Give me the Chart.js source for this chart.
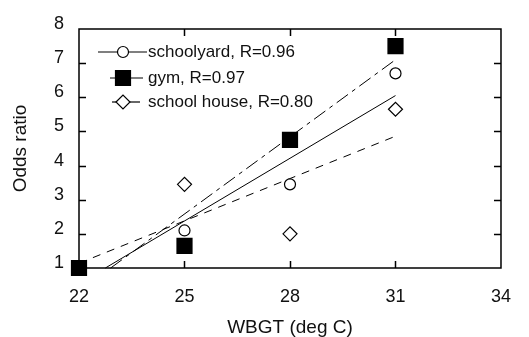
<!DOCTYPE html>
<html>
<head>
<meta charset="utf-8">
<script src="https://cdn.jsdelivr.net/npm/chart.js@4/dist/chart.umd.min.js"></script>
<style>
  html, body { margin: 0; padding: 0; background: #fff; }
</style>
</head>
<body>
<canvas id="oddsChart" width="529" height="337"></canvas>
<script>
// values
const wbgt = [22, 25, 28, 31];
const schoolyard = [1, 2.1, 3.45, 6.7];
const gym = [1, 1.65, 4.75, 7.5];
const schoolHouse = [1, 3.45, 2.0, 5.65];

// regression lines (end points as drawn)
const schoolyardFitX = [22.75, 31], schoolyardFitY = [1, 6.05];
const gymFitX = [22.9, 31], gymFitY = [1, 7.1];
const houseFitX = [22, 31], houseFitY = [1.14, 4.86];

const labels = ["schoolyard, R=0.96", "gym, R=0.97", "school house, R=0.80"];
const xTicks = [22, 25, 28, 31, 34];
const yTicks = [1, 2, 3, 4, 5, 6, 7, 8];

const FONT = '"Liberation Sans", Arial, sans-serif';
const TICK = 7;

const pts = (xs, ys) => xs.map((x, i) => ({ x, y: ys[i] }));

// box round the plot + inward ticks
const frameTicks = {
  id: "frameTicks",
  beforeDatasetsDraw(chart) {
    const { ctx, chartArea: a, scales: { x, y } } = chart;
    ctx.save();
    ctx.strokeStyle = "#000";
    ctx.lineWidth = 1.5;
    ctx.strokeRect(a.left, a.top, a.right - a.left, a.bottom - a.top);
    ctx.beginPath();
    xTicks.slice(1, -1).forEach(v => {
      const px = Math.round(x.getPixelForValue(v)) + 0.5;
      ctx.moveTo(px, a.bottom); ctx.lineTo(px, a.bottom - TICK);
      ctx.moveTo(px, a.top); ctx.lineTo(px, a.top + TICK);
    });
    yTicks.slice(1, -1).forEach(v => {
      const py = Math.round(y.getPixelForValue(v)) + 0.5;
      ctx.moveTo(a.left, py); ctx.lineTo(a.left + TICK, py);
      ctx.moveTo(a.right, py); ctx.lineTo(a.right - TICK, py);
    });
    ctx.stroke();
    ctx.restore();
  }
};

// legend inside the plot: line with the marker on it, then the label
const innerLegend = {
  id: "innerLegend",
  afterDraw(chart) {
    const ctx = chart.ctx;
    const rows = [
      { y: 52, x0: 98, x1: 147, ds: 1 },
      { y: 78, x0: 110, x1: 143, ds: 0 },
      { y: 102, x0: 112, x1: 140, ds: 2 }
    ];
    ctx.save();
    rows.forEach(r => {
      const d = chart.data.datasets[r.ds];
      ctx.strokeStyle = "#000";
      ctx.lineWidth = 1.2;
      ctx.beginPath(); ctx.moveTo(r.x0, r.y); ctx.lineTo(r.x1, r.y); ctx.stroke();
      const cx = 123, rad = d.pointRadius;
      ctx.fillStyle = d.pointBackgroundColor;
      ctx.beginPath();
      if (d.pointStyle === "circle") ctx.arc(cx, r.y, rad, 0, Math.PI * 2);
      else if (d.pointStyle === "rect") { const s = rad * Math.SQRT1_2; ctx.rect(cx - s, r.y - s, 2 * s, 2 * s); }
      else { ctx.moveTo(cx - rad, r.y); ctx.lineTo(cx, r.y - rad); ctx.lineTo(cx + rad, r.y); ctx.lineTo(cx, r.y + rad); ctx.closePath(); }
      ctx.fill(); ctx.stroke();
      ctx.fillStyle = "#111";
      ctx.font = "17px " + FONT;
      ctx.textBaseline = "alphabetic";
      ctx.fillText(d.label, 148, r.y + 5);
    });
    ctx.restore();
  }
};

const pointSet = (label, ys, style, radius, fill) => ({
  label, data: pts(wbgt, ys), showLine: false, clip: false,
  pointStyle: style, pointRadius: radius, pointHoverRadius: radius,
  pointBackgroundColor: fill, pointBorderColor: "#000", pointBorderWidth: 1.2
});
const fitSet = (xs, ys, dash) => ({
  data: pts(xs, ys), showLine: true, pointRadius: 0, clip: false,
  borderColor: "#000", borderWidth: 1, borderDash: dash
});

new Chart(document.getElementById("oddsChart"), {
  type: "scatter",
  data: {
    datasets: [
      pointSet(labels[1], gym, "rect", 10.6, "#000"),
      pointSet(labels[0], schoolyard, "circle", 5.5, "#fff"),
      pointSet(labels[2], schoolHouse, "rectRot", 7, "#fff"),
      fitSet(schoolyardFitX, schoolyardFitY, []),
      fitSet(gymFitX, gymFitY, [14, 5, 4, 5]),
      fitSet(houseFitX, houseFitY, [8, 7])
    ]
  },
  options: {
    responsive: false,
    animation: false,
    layout: { padding: { top: 29, right: 14, left: 0, bottom: 0 } },
    plugins: { legend: { display: false }, tooltip: { enabled: false } },
    scales: {
      x: {
        type: "linear", min: 22, max: 34,
        afterBuildTicks: s => { s.ticks = xTicks.map(v => ({ value: v })); },
        afterFit: s => { s.height = 69; },
        grid: { display: false, drawTicks: false },
        border: { display: false },
        ticks: { color: "#111", font: { family: FONT, size: 18 }, padding: 18, maxRotation: 0 },
        title: { display: true, text: "WBGT (deg C)", color: "#111", font: { family: FONT, size: 19 }, padding: { top: 0, bottom: -2 } }
      },
      y: {
        type: "linear", min: 1, max: 8,
        afterBuildTicks: s => { s.ticks = yTicks.map(v => ({ value: v })); },
        afterFit: s => { s.width = 79; },
        grid: { display: false, drawTicks: false },
        border: { display: false },
        ticks: { color: "#111", font: { family: FONT, size: 18 }, padding: 15, labelOffset: -5 },
        title: { display: true, text: "Odds ratio", color: "#111", font: { family: FONT, size: 19 }, padding: { top: 9, bottom: 0 } }
      }
    }
  },
  plugins: [frameTicks, innerLegend]
});
</script>
</body>
</html>
